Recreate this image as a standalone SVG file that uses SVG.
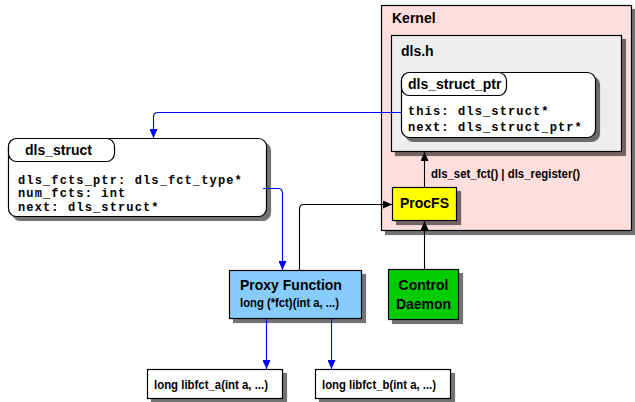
<svg xmlns="http://www.w3.org/2000/svg" width="635" height="402" viewBox="0 0 635 402">
  <style>
    .box { stroke: #000; stroke-width: 1.2; }
    .title { font-family: "Liberation Sans", Arial, sans-serif; font-weight: bold; font-size: 14px; fill: #000; }
    .narrow { font-family: "Liberation Sans", Arial, sans-serif; font-weight: bold; font-size: 13.5px; fill: #000; }
    .mono { font-family: "Liberation Mono", "Courier New", monospace; font-weight: bold; font-size: 12px; letter-spacing: 1.13px; fill: #000; }
    .blue { fill: none; stroke: #0000ff; stroke-width: 1.1; }
    .black { fill: none; stroke: #000; stroke-width: 1.1; }
  </style>
  <defs>
    <filter id="shadow" x="-10%" y="-10%" width="130%" height="130%">
      <feGaussianBlur in="SourceAlpha" stdDeviation="0.7" result="b"/>
      <feOffset in="b" dx="3.5" dy="3.5" result="o"/>
      <feFlood flood-color="#000" flood-opacity="0.55"/>
      <feComposite in2="o" operator="in" result="s"/>
      <feMerge><feMergeNode in="s"/><feMergeNode in="SourceGraphic"/></feMerge>
    </filter>
    <marker id="arrowBlue" markerUnits="userSpaceOnUse" markerWidth="9" markerHeight="8" refX="9" refY="4" orient="auto">
      <path d="M0,0 L9,4 L0,8 z" fill="#0000ff"/>
    </marker>
    <marker id="arrowBlack" markerUnits="userSpaceOnUse" markerWidth="9" markerHeight="8" refX="9" refY="4" orient="auto">
      <path d="M0,0 L9,4 L0,8 z" fill="#000"/>
    </marker>
  </defs>

  <!-- kernel container -->
  <g id="kernel">
    <rect class="box" x="381.5" y="5.5" width="250" height="225" fill="#ffdede" filter="url(#shadow)"/>
    <text class="title" x="392" y="23" font-size="13.5">Kernel</text>
  </g>

  <!-- dls.h header box -->
  <g id="dls-h">
    <rect class="box" x="391.5" y="35.5" width="230" height="116" fill="#eeeeee" filter="url(#shadow)"/>
    <text class="title" x="401" y="56">dls.h</text>
  </g>

  <!-- dls_struct_ptr record -->
  <g id="dls-struct-ptr">
    <rect class="box" x="401.5" y="72.5" width="194" height="65" rx="8" fill="#fff" filter="url(#shadow)"/>
    <rect class="box" x="401.5" y="72.5" width="105" height="23" rx="8" fill="#fff"/>
    <text class="title" x="408" y="89">dls_struct_ptr</text>
    <text class="mono" x="408" y="115">this: dls_struct*</text>
    <text class="mono" x="408" y="131">next: dls_struct_ptr*</text>
  </g>

  <!-- dls_struct record -->
  <g id="dls-struct">
    <rect class="box" x="8.5" y="138.5" width="258" height="78" rx="8" fill="#fff" filter="url(#shadow)"/>
    <rect class="box" x="8.5" y="138.5" width="106" height="23" rx="8" fill="#fff"/>
    <text class="title" x="25" y="155">dls_struct</text>
    <text class="mono" x="18" y="183.5">dls_fcts_ptr: dls_fct_type*</text>
    <text class="mono" x="18" y="197">num_fcts: int</text>
    <text class="mono" x="18" y="210.5">next: dls_struct*</text>
  </g>

  <!-- ProcFS -->
  <g id="procfs">
    <rect class="box" x="392.5" y="187.5" width="64" height="33" fill="#ffff00" filter="url(#shadow)"/>
    <text class="title" x="424.5" y="208" text-anchor="middle">ProcFS</text>
  </g>

  <!-- Proxy Function -->
  <g id="proxy-function">
    <rect class="box" x="229.5" y="270.5" width="132" height="48" fill="#88ccff" filter="url(#shadow)"/>
    <text class="title" x="240" y="290">Proxy Function</text>
    <text class="narrow" x="240" y="307" textLength="99" lengthAdjust="spacingAndGlyphs">long (*fct)(int a, ...)</text>
  </g>

  <!-- Control Daemon -->
  <g id="control-daemon">
    <rect class="box" x="388.5" y="269.5" width="70" height="50" fill="#00cc00" filter="url(#shadow)"/>
    <text class="title" x="423.5" y="290" text-anchor="middle">Control</text>
    <text class="title" x="423.5" y="309" text-anchor="middle">Daemon</text>
  </g>

  <!-- library functions -->
  <g id="libfct-a">
    <rect class="box" x="147.5" y="369.5" width="135" height="29" fill="#fff" filter="url(#shadow)"/>
    <text class="narrow" x="154" y="389" textLength="114" lengthAdjust="spacingAndGlyphs">long libfct_a(int a, ...)</text>
  </g>
  <g id="libfct-b">
    <rect class="box" x="315.5" y="369.5" width="135" height="29" fill="#fff" filter="url(#shadow)"/>
    <text class="narrow" x="322" y="389" textLength="114" lengthAdjust="spacingAndGlyphs">long libfct_b(int a, ...)</text>
  </g>

  <!-- connectors -->
  <g id="connectors">
    <path class="blue" d="M401,112.5 H158 Q153.5,112.5 153.5,117 V138" marker-end="url(#arrowBlue)"/>
    <path class="blue" d="M263,188.5 H278 Q282.5,188.5 282.5,193 V270" marker-end="url(#arrowBlue)"/>
    <path class="blue" d="M266.5,319 V369" marker-end="url(#arrowBlue)"/>
    <path class="blue" d="M331.5,319 V369" marker-end="url(#arrowBlue)"/>
    <path class="black" d="M299.5,270 V209 Q299.5,204.5 304,204.5 H392" marker-end="url(#arrowBlack)"/>
    <path class="black" d="M424.5,269 V221" marker-end="url(#arrowBlack)"/>
    <path class="black" d="M424.5,187 V152" marker-end="url(#arrowBlack)"/>
    <text class="narrow" x="431" y="178" textLength="149" lengthAdjust="spacingAndGlyphs">dls_set_fct() | dls_register()</text>
  </g>
</svg>
